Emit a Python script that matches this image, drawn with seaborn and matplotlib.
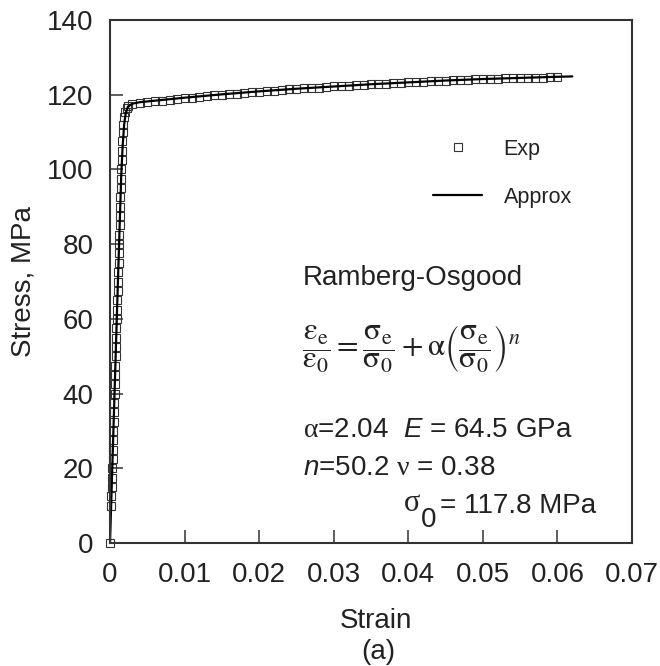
import matplotlib
matplotlib.use("Agg")
import matplotlib.pyplot as plt
import seaborn as sns
import numpy as np

# ---------------- data ----------------
exp_strain = [0.0, 0.00015, 0.00019, 0.00023, 0.00027, 0.00030, 0.00034, 0.00038, 0.00042,
              0.00045, 0.00049, 0.00053, 0.00057, 0.00061, 0.00064, 0.00068, 0.00072,
              0.00076, 0.00080, 0.00083, 0.00087, 0.00091, 0.00095, 0.00098, 0.00102,
              0.00106, 0.00110, 0.00114, 0.00117, 0.00121, 0.00125, 0.00129, 0.00133,
              0.00136, 0.00140, 0.00144, 0.00148, 0.00152, 0.00156, 0.00160, 0.00165,
              0.00172, 0.00180, 0.00192, 0.00205, 0.00222, 0.00245,
              0.003, 0.004, 0.005, 0.006, 0.007, 0.008, 0.009, 0.010, 0.011, 0.012,
              0.013, 0.014, 0.015, 0.016, 0.017, 0.018, 0.019, 0.020, 0.021, 0.022,
              0.023, 0.024, 0.025, 0.026, 0.027, 0.028, 0.029, 0.030, 0.031, 0.032,
              0.033, 0.034, 0.035, 0.036, 0.037, 0.038, 0.039, 0.040, 0.041, 0.042,
              0.043, 0.044, 0.045, 0.046, 0.047, 0.048, 0.049, 0.050, 0.051, 0.052,
              0.053, 0.054, 0.055, 0.056, 0.057, 0.058, 0.059, 0.060]
exp_stress = [0.0, 10.0, 12.5, 15.0, 17.5, 20.0, 22.5, 25.0, 27.5,
              30.0, 32.5, 35.0, 37.5, 40.0, 42.5, 45.0, 47.5,
              50.0, 52.5, 55.0, 57.5, 60.0, 62.5, 65.0, 67.5,
              70.0, 72.5, 75.0, 77.5, 80.0, 82.5, 85.0, 87.5,
              90.0, 92.5, 95.0, 97.5, 100.0, 102.5, 105.0, 107.5,
              110.0, 112.0, 114.0, 115.5, 116.5, 117.0,
              117.5, 117.8, 118.0, 118.2, 118.4, 118.6, 118.8, 119.0, 119.2, 119.4,
              119.6, 119.8, 120.0, 120.2, 120.3, 120.5, 120.6, 120.8, 120.9, 121.1,
              121.2, 121.4, 121.5, 121.7, 121.8, 121.9, 122.1, 122.2, 122.3, 122.4,
              122.6, 122.7, 122.8, 122.9, 123.0, 123.1, 123.2, 123.3, 123.4, 123.5,
              123.6, 123.7, 123.8, 123.9, 123.9, 124.0, 124.1, 124.2, 124.2, 124.3,
              124.4, 124.4, 124.5, 124.5, 124.6, 124.6, 124.7, 124.7]

approx_strain = [0.0, 0.0005, 0.001, 0.0015, 0.0017, 0.0019, 0.0021, 0.0024, 0.003,
                 0.004, 0.006, 0.008, 0.010, 0.015, 0.020, 0.025, 0.030, 0.035,
                 0.040, 0.045, 0.050, 0.055, 0.060, 0.062]
approx_stress = [0.0, 33.0, 66.0, 98.0, 106.5, 112.0, 115.0, 116.8, 117.6,
                 118.0, 118.4, 118.8, 119.2, 120.1, 120.9, 121.6, 122.2, 122.8,
                 123.3, 123.8, 124.2, 124.5, 124.8, 124.9]

x_ticks = [0, 0.01, 0.02, 0.03, 0.04, 0.05, 0.06, 0.07]
x_tick_labels = ["0", "0.01", "0.02", "0.03", "0.04", "0.05", "0.06", "0.07"]
y_ticks = [0, 20, 40, 60, 80, 100, 120, 140]
y_tick_labels = ["0", "20", "40", "60", "80", "100", "120", "140"]

# ---------------- style ----------------
sns.set_theme(style="white")
plt.rcParams["font.family"] = ["Liberation Sans", "DejaVu Sans"]
plt.rcParams["mathtext.fontset"] = "custom"
plt.rcParams["mathtext.rm"] = "Liberation Serif"
plt.rcParams["mathtext.it"] = "Liberation Sans:italic"
plt.rcParams["mathtext.sf"] = "Liberation Sans"
plt.rcParams["text.color"] = "#222222"

W, H = 660, 666
fig = plt.figure(figsize=(W / 100, H / 100), dpi=100)
ax = fig.add_axes([110 / W, 1 - 543 / H, (632 - 110) / W, (543 - 20) / H])

sns.lineplot(x=exp_strain, y=exp_stress, ax=ax, estimator=None, sort=False,
             marker="s", linestyle="", markersize=5.5, markerfacecolor="none",
             markeredgecolor="#333333", markeredgewidth=0.8, label="Exp",
             clip_on=False)
sns.lineplot(x=approx_strain, y=approx_stress, ax=ax, estimator=None, sort=False,
             color="black", linewidth=1.6, label="Approx")

ax.set_xlim(0, 0.07)
ax.set_ylim(0, 140)
ax.set_xticks(x_ticks)
ax.set_xticklabels(x_tick_labels)
ax.set_yticks(y_ticks)
ax.set_yticklabels(y_tick_labels)
ax.tick_params(axis="both", direction="in", length=9.5, width=1.1, color="#333333",
               labelsize=20, labelcolor="#222222", bottom=True, left=True,
               top=False, right=False)
ax.tick_params(axis="x", pad=14)
ax.tick_params(axis="y", pad=12)
for sp in ax.spines.values():
    sp.set_linewidth(1.5)
    sp.set_color("#333333")

ax.set_xlabel("Strain", fontsize=20, color="#222222")
ax.set_ylabel("Stress, MPa", fontsize=20, color="#222222")
ax.xaxis.set_label_coords(0.51, -0.124)
ax.yaxis.set_label_coords(-0.14, 0.5)

handles, labels = ax.get_legend_handles_labels()
ax.legend(handles, labels, loc="upper left", bbox_to_anchor=(433 / W, 1 - 139 / H),
          bbox_transform=fig.transFigure, frameon=False, fontsize=15.5,
          handlelength=2.28, handletextpad=1.0, labelspacing=1.25,
          borderpad=0, borderaxespad=0)

# ---------------- annotations ----------------
fs = 20
fig.text(303 / W, 1 - 285 / H, "Ramberg-Osgood", fontsize=fs, va="baseline", ha="left")
fig.text(302 / W, 1 - 349 / H,
         r"$\dfrac{\mathrm{\varepsilon}_\mathrm{e}}{\mathrm{\varepsilon}_\mathrm{0}}"
         r" = \dfrac{\mathrm{\sigma}_\mathrm{e}}{\mathrm{\sigma}_\mathrm{0}}"
         r" + \mathrm{\alpha}\left(\dfrac{\mathrm{\sigma}_\mathrm{e}}"
         r"{\mathrm{\sigma}_\mathrm{0}}\right)^n$",
         fontsize=22.5, va="center", ha="left", math_fontfamily="stix")
fig.text(303 / W, 1 - 437 / H, r"$\mathrm{\alpha}$=2.04  $E$ = 64.5 GPa",
         fontsize=fs, va="baseline", ha="left")
fig.text(303 / W, 1 - 475 / H, r"$n$=50.2 $\mathrm{\nu}$ = 0.38",
         fontsize=fs, va="baseline", ha="left")
fig.text(404 / W, 1 - 511 / H, "σ", fontsize=22, va="baseline", ha="left",
         family="Liberation Serif")
fig.text(421 / W, 1 - 527 / H, "0", fontsize=fs, va="baseline", ha="left")
fig.text(440 / W, 1 - 513 / H, "= 117.8 MPa", fontsize=fs, va="baseline", ha="left")

fig.text(378 / W, 1 - 652 / H, "(a)", fontsize=20, va="center", ha="center")

fig.savefig("out.png", dpi=100)
